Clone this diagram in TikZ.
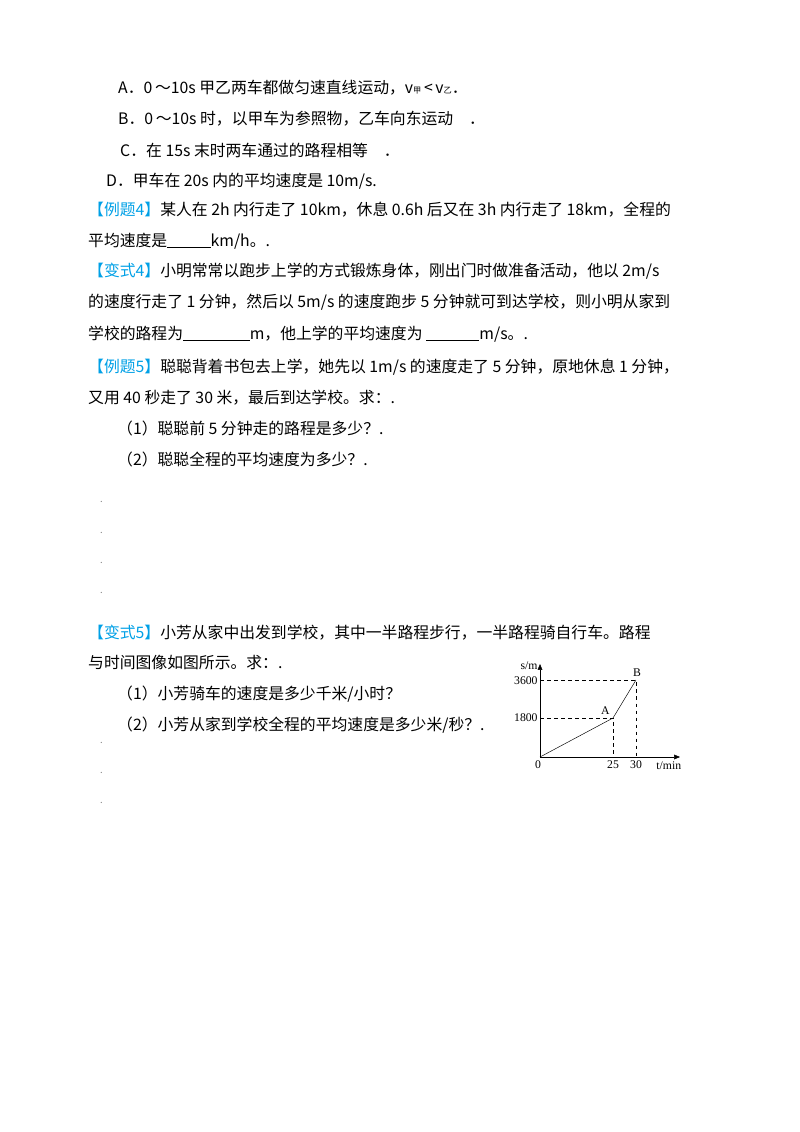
\documentclass[tikz,border=0pt]{standalone}
\usepackage{fontspec}
\setmainfont{Noto Sans CJK SC}
\newfontfamily\serifgr{Liberation Serif}
\usetikzlibrary{positioning, arrows.meta}
\definecolor{headblue}{RGB}{0,160,230}

\begin{document}
\begin{tikzpicture}[x=0.3mm, y=-0.3mm,
    txt/.style={anchor=base west, inner sep=0pt, font=\fontsize{13.5pt}{13.5pt}\selectfont},
    tick/.style={font=\serifgr\fontsize{10pt}{10pt}\selectfont, inner sep=1pt},
    guide/.style={dashed, thin},
    dotmark/.style={anchor=base west, inner sep=0pt, font=\fontsize{8pt}{8pt}\selectfont, gray}]
  \def\blank#1{\underline{\hspace{#1}}}
  \def\head#1{\textcolor{headblue}{【#1】}}
  \useasboundingbox (0,0) rectangle (800,1132);

  % options of the question above
  \node[txt] (optA) at (118,93) {A．0\,～10s 甲乙两车都做匀速直线运动，v{\scriptsize 甲}\,<\,v{\scriptsize 乙}．};
  \node[txt] (optB) at (118,124) {B．0\,～10s 时，以甲车为参照物，乙车向东运动\quad．};
  \node[txt] (optC) at (120,156) {C．在 15s 末时两车通过的路程相等\quad．};
  \node[txt] (optD) at (106,186) {D．甲车在 20s 内的平均速度是 10m/s.};

  % example 4 and variant 4
  \node[txt] (ex4) at (88,215) {\head{例题4}某人在 2h 内行走了 10km，休息 0.6h 后又在 3h 内行走了 18km，全程的};
  \node[txt] (ex4b) at (88,246) {平均速度是\blank{1.3cm}km/h。.};
  \node[txt] (var4) at (88,276) {\head{变式4}小明常常以跑步上学的方式锻炼身体，刚出门时做准备活动，他以 2m/s};
  \node[txt] (var4b) at (88,307) {的速度行走了 1 分钟，然后以 5m/s 的速度跑步 5 分钟就可到达学校，则小明从家到};
  \node[txt] (var4c) at (88,339) {学校的路程为\blank{2cm}m，他上学的平均速度为 \blank{1.6cm}m/s。.};

  % example 5
  \node[txt] (ex5) at (88,372) {\head{例题5}聪聪背着书包去上学，她先以 1m/s 的速度走了 5 分钟，原地休息 1 分钟，};
  \node[txt] (ex5b) at (88,403) {又用 40 秒走了 30 米，最后到达学校。求：.};
  \node[txt] (ex5q1) at (117,434) {（1）聪聪前 5 分钟走的路程是多少？.};
  \node[txt] (ex5q2) at (117,465) {（2）聪聪全程的平均速度为多少？.};
  \foreach \yy [count=\k] in {502,533,563,593}
    \node[dotmark] (gap\k) at (100,\yy) {.};

  % variant 5
  \node[txt] (var5) at (88,638) {\head{变式5}小芳从家中出发到学校，其中一半路程步行，一半路程骑自行车。路程};
  \node[txt] (var5b) at (88,668) {与时间图像如图所示。求：.};
  \node[txt] (var5q1) at (117,699) {（1）小芳骑车的速度是多少千米/小时？};
  \node[txt] (var5q2) at (117,730) {（2）小芳从家到学校全程的平均速度是多少米/秒？.};
  \foreach \yy [count=\k] in {743,773,803}
    \node[dotmark] (tail\k) at (100,\yy) {.};

  % s-t graph
  \coordinate (O) at (540,757);
  \coordinate (ytop) at (540,664);
  \coordinate (xend) at (680,757);
  \coordinate (A) at (613,718);
  \coordinate (B) at (636,680);
  \draw[-{Triangle[length=5pt,width=4pt]}] (O) -- (ytop);
  \draw[-{Triangle[length=5pt,width=4pt]}] (O) -- (xend);
  \draw[guide] (O |- A) -- (A) -- (A |- O);
  \draw[guide] (O |- B) -- (B) -- (B |- O);
  \draw (O) -- (A) -- (B);
  \node[tick, anchor=east] (sm) at (539,666) {s/m};
  \node[tick, anchor=east] (y3600) at (539,681) {3600};
  \node[tick, anchor=east] (y1800) at (539,718) {1800};
  \node[tick, anchor=north] (x0) at (538,759) {0};
  \node[tick, anchor=north] (x25) at (613,759) {25};
  \node[tick, anchor=north] (x30) at (636,759) {30};
  \node[tick, anchor=north west] (tmin) at (655,760) {t/min};
  \node[tick, anchor=south east] (lblA) at (611,716) {A};
  \node[tick, anchor=south] (lblB) at (637,678) {B};
\end{tikzpicture}
\end{document}
